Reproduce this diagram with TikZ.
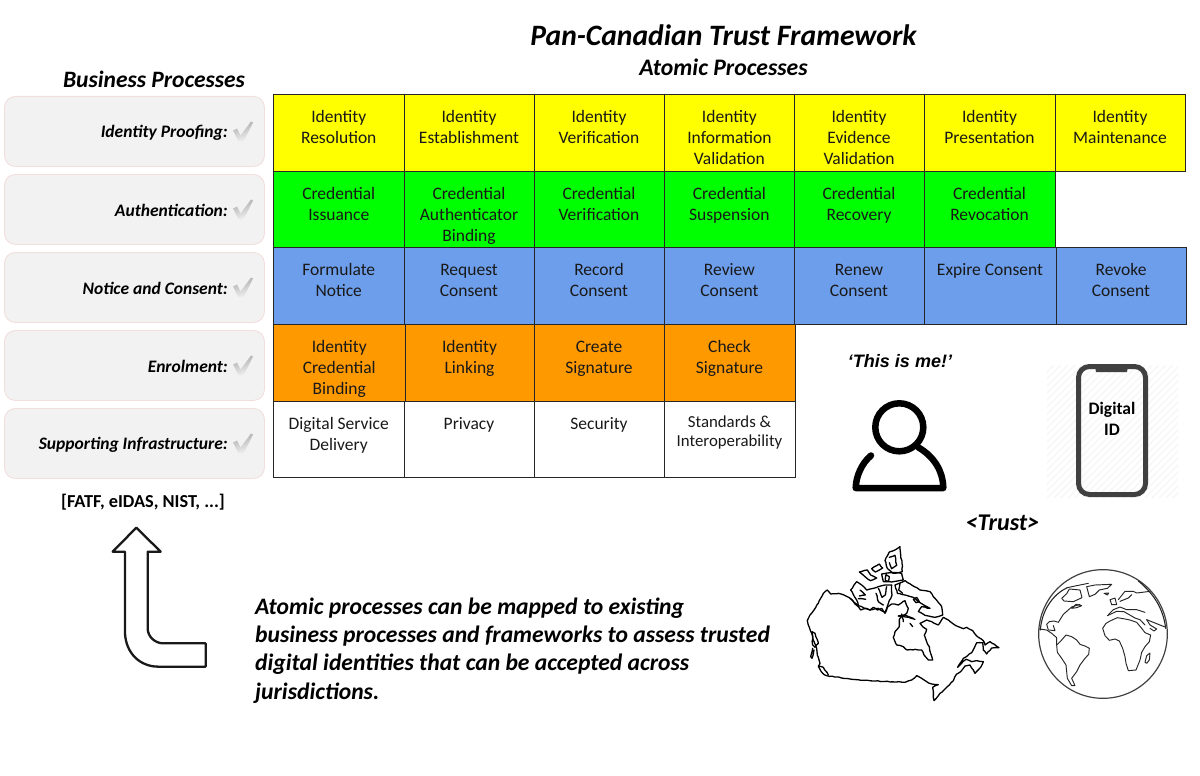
\documentclass[tikz,border=0pt]{standalone}
\usepackage{fontspec}
\usetikzlibrary{decorations.pathmorphing}
\setmainfont{Carlito}
\newfontfamily\arialf{Liberation Sans}
\definecolor{cyel}{HTML}{FFFF00}
\definecolor{cgrn}{HTML}{00FF00}
\definecolor{cblu}{HTML}{6D9EEB}
\definecolor{corg}{HTML}{FF9900}
\definecolor{cbord}{HTML}{262626}
\definecolor{bpfill}{HTML}{F2F2F2}
\definecolor{bpedge}{HTML}{F3DEDE}
\definecolor{phonec}{HTML}{404040}
\definecolor{hatchc}{HTML}{F7F7F7}
\pgfmathsetseed{7}
\tikzset{
  cellbox/.style={draw=cbord,line width=0.9pt,anchor=north west,inner sep=0pt,outer sep=0pt,text=black!90},
  bpbox/.style={draw=bpedge,fill=bpfill,line width=0.9pt,rounded corners=11pt,anchor=north west,minimum width=260pt,minimum height=70pt,inner sep=0pt},
  bplabel/.style={anchor=east,inner sep=0pt,font=\fontsize{17.5}{21}\selectfont\bfseries\itshape},
  heading/.style={inner sep=0pt,font=\bfseries\itshape,align=center},
  mapline/.style={line width=1.3pt,line join=round,line cap=round,black,decorate,decoration={random steps,segment length=3pt,amplitude=0.4pt}},
  globeline/.style={line width=0.95pt,line join=round,line cap=round,black!85},
  chk/.pic={\shade[top color=black!32,bottom color=black!5,shading angle=15]
     (-10,-1) -- (-6,-3) -- (-2.5,4) -- (8,-10) -- (10,-9) -- (1,9) -- (-2,10) -- (-5,9) -- cycle;}
}
\newcommand{\pcell}[7]{%
  \node[cellbox,fill=#6] (#1) at (#2,#3) {\parbox[c][#5pt][t]{#4pt}{\vspace*{13.4pt}\centering\fontsize{17.5}{21}\selectfont\strut #7\par}};}
\begin{document}
\begin{tikzpicture}[x=1pt,y=-1pt]
\useasboundingbox (0,0) rectangle (1200,776);
% headings
\node[heading,font=\fontsize{29.6}{34}\selectfont\bfseries\itshape] (title) at (723.5,35) {Pan-Canadian Trust Framework};
\node[heading,font=\fontsize{23.7}{27}\selectfont\bfseries\itshape] (atomic) at (723.5,67) {Atomic Processes};
\node[heading,font=\fontsize{23.5}{27}\selectfont\bfseries\itshape] (bizp) at (154,79) {Business Processes};
% business process boxes
\foreach \nm/\yy/\tx in {a/96/Identity Proofing:,b/174/Authentication:,c/252/Notice and Consent:,d/330/Enrolment:,e/408/Supporting Infrastructure:}{
  \node[bpbox] (bp\nm) at (4,\yy) {};
  \node[bplabel] (lb\nm) at (228,\yy+36.5) {\tx};
  \pic at (243,\yy+35.5) {chk};
}
\node[inner sep=0pt,font=\fontsize{18.3}{22}\selectfont\bfseries] (refs) at (143,502) {[FATF, eIDAS, NIST, ...]};
% row 1
\pcell{r1a}{273.5}{94}{130.5}{77}{cyel}{Identity\\Resolution}
\pcell{r1b}{404}{94}{130}{77}{cyel}{Identity\\Establishment}
\pcell{r1c}{534}{94}{130}{77}{cyel}{Identity\\Verification}
\pcell{r1d}{664}{94}{130.8}{77}{cyel}{Identity\\Information\\Validation}
\pcell{r1e}{794}{94}{130}{77}{cyel}{Identity\\Evidence\\Validation}
\pcell{r1f}{924}{94}{131}{77}{cyel}{Identity\\Presentation}
\pcell{r1g}{1055}{94}{130}{77}{cyel}{Identity\\Maintenance}
% row 2
\pcell{r2a}{273.5}{171}{130.5}{76}{cgrn}{Credential\\Issuance}
\pcell{r2b}{404}{171}{130}{76}{cgrn}{Credential\\Authenticator\\Binding}
\pcell{r2c}{534}{171}{130}{76}{cgrn}{Credential\\Verification}
\pcell{r2d}{664}{171}{130.8}{76}{cgrn}{Credential\\Suspension}
\pcell{r2e}{794}{171}{130}{76}{cgrn}{Credential\\Recovery}
\pcell{r2f}{924}{171}{131}{76}{cgrn}{Credential\\Revocation}
% row 3
\pcell{r3a}{273.5}{247}{130.5}{77}{cblu}{Formulate\\Notice}
\pcell{r3b}{404}{247}{130}{77}{cblu}{Request\\Consent}
\pcell{r3c}{534}{247}{130}{77}{cblu}{Record\\Consent}
\pcell{r3d}{664}{247}{130.8}{77}{cblu}{Review\\Consent}
\pcell{r3e}{794}{247}{130}{77}{cblu}{Renew\\Consent}
\pcell{r3f}{924}{247}{132}{77}{cblu}{Expire Consent}
\pcell{r3g}{1056}{247}{130}{77}{cblu}{Revoke\\Consent}
% row 4
\pcell{r4a}{273.5}{324}{131.5}{77}{corg}{Identity\\Credential\\Binding}
\pcell{r4b}{405}{324}{129}{77}{corg}{Identity\\Linking}
\pcell{r4c}{534}{324}{130}{77}{corg}{Create\\Signature}
\pcell{r4d}{664}{324}{131}{77}{corg}{Check\\Signature}
% row 5
\pcell{r5a}{273.5}{401}{130.5}{76}{white}{Digital Service\\Delivery}
\pcell{r5b}{404}{401}{130}{76}{white}{Privacy}
\pcell{r5c}{534}{401}{130}{76}{white}{Security}
\node[cellbox,fill=white] (r5d) at (664,401) {\parbox[c][76pt][t]{131pt}{\vspace*{13.5pt}\centering\fontsize{16.8}{19}\selectfont\strut Standards \&\\Interoperability\par}};
% this is me
\node[inner sep=0pt,font=\arialf\fontsize{18}{21}\selectfont\bfseries\itshape] (me) at (900,361) {‘This is me!’};
\coordinate (headc) at (899.3,427.3);
\draw[line width=6.5pt] (headc) circle[radius=24];
\draw[line width=6.5pt,line cap=round,line join=round]
  (871,455.5) .. controls (862,463) and (856,476) .. (855.7,488) -- (943.3,488)
  .. controls (943,470) and (933,456) .. (918.5,447.5);
% phone
\begin{scope}
\clip (1047,365) rectangle (1178,498);
\foreach \k in {0,7,...,280}{\draw[hatchc,line width=1.6pt] (1047+\k-133,498) -- (1047+\k,365);}
\end{scope}
\draw[phonec,line width=5pt,rounded corners=11pt] (1078.5,366.5) rectangle (1145.5,494.5);
\fill[phonec] (1095,366.5) -- (1128,366.5) -- (1127,372) -- (1096,372) -- cycle;
\node[inner sep=0pt,align=center,font=\fontsize{17.5}{21}\selectfont\bfseries] (did) at (1112,418.5) {Digital\\ID};
% trust
\node[inner sep=0pt,font=\fontsize{24}{28}\selectfont\bfseries\itshape] (trust) at (1002.5,523) {<Trust>};
% arrow
\begin{scope}[shift={(90,510)},xscale=1/3,yscale=1/3]
\draw[line width=2.3pt,line join=round,black!90] (139,53) -- (68,125) -- (105,125) -- (105,370)
  .. controls (108,430) and (150,470) .. (205,470) -- (347,470) -- (347,400) -- (220,400)
  .. controls (195,400) and (173,380) .. (173,355) -- (173,125) -- (212,125) -- cycle;
\end{scope}
% paragraph
\node[anchor=north west,inner sep=0pt,align=left,font=\fontsize{23.6}{28.3}\selectfont\bfseries\itshape] (para) at (255,597.5)
 {Atomic processes can be mapped to existing\\business processes and frameworks to assess trusted\\digital identities that can be accepted across\\jurisdictions.};
% Canada mainland
\begin{scope}[shift={(790,530)},xscale=1/3,yscale=1/3]
\draw[mapline] (52,272) -- (60,255) -- (72,240) -- (85,220) -- (92,205) -- (100,190) -- (112,180) -- (122,192) -- (145,190) -- (162,195) -- (183,207) -- (195,222) -- (205,230) -- (212,240) -- (228,235) -- (240,240) -- (250,232) -- (262,240) -- (275,235) -- (285,250) -- (292,232) -- (305,222) -- (325,225) -- (345,212) -- (355,235) -- (350,250) -- (335,258) -- (328,268) -- (328,290) -- (315,305) -- (310,322) -- (320,345) -- (340,350) -- (352,360) -- (375,358) -- (395,360) -- (402,375) -- (415,390) -- (428,390) -- (422,370) -- (418,350) -- (410,335) -- (403,315) -- (410,298) -- (398,290) -- (390,280) -- (410,270) -- (425,275) -- (445,285) -- (460,262) -- (475,270) -- (490,282) -- (505,290) -- (520,296) -- (530,292) -- (548,302) -- (565,322) -- (580,332) -- (585,345) -- (600,335) -- (612,342) -- (627,353) -- (605,354) -- (590,372) -- (580,360) -- (578,338) -- (560,338) -- (552,355) -- (545,368) -- (520,385) -- (510,400) -- (503,412) -- (528,388) -- (545,395) -- (560,392) -- (580,395) -- (572,412) -- (555,430) -- (550,420) -- (540,405) -- (525,408) -- (512,425) -- (500,432) -- (490,452) -- (478,465) -- (462,480) -- (450,490) -- (432,512) -- (428,472) -- (445,464) -- (425,462) -- (410,455) -- (395,445) -- (380,437) -- (365,450) -- (345,457) -- (250,453) -- (180,447) -- (110,437) -- (98,430) -- (85,410) -- (90,400) -- (82,375) -- (80,355) -- (72,335) -- (65,310) -- (58,292) -- (52,272);
\draw[mapline] (85,408) -- (100,412) -- (115,435);
\draw[mapline] (66,305) -- (75,310) -- (85,340) -- (75,352) -- (68,345) -- (66,305);
\draw[mapline] (68,355) -- (62,380) -- (66,385) -- (72,360);
\draw[mapline] (325,258) -- (355,262) -- (375,268);
\draw[mapline] (360,280) -- (368,290);
\end{scope}
% Arctic archipelago
\begin{scope}[shift={(850,540)},xscale=1/3,yscale=1/3]
\draw[mapline] (150,20) -- (152,45) -- (156,70) -- (157,95) -- (130,100) -- (112,85) -- (105,62) -- (118,36) -- (135,30) -- cycle;
\draw[mapline] (118,52) -- (135,46) -- (140,76) -- (125,86) -- (118,68);
\draw[mapline] (95,102) -- (125,98) -- (155,100) -- (160,120) -- (125,126) -- (100,125) -- cycle;
\draw[mapline] (108,104) -- (118,110) -- (116,124) -- (106,122) -- cycle;
\draw[mapline] (28,96) -- (52,90) -- (62,105) -- (80,114) -- (62,122) -- (45,110) -- cycle;
\draw[mapline] (65,86) -- (88,72) -- (98,84) -- (76,96) -- cycle;
\draw[mapline] (2,150) -- (20,125) -- (35,135) -- (50,150) -- (70,145) -- (85,140) -- (105,135) -- (125,135) -- (126,165) -- (115,190) -- (105,217) -- (85,205) -- (60,210) -- (25,197) -- (20,180) -- cycle;
\draw[mapline] (30,150) -- (46,165) -- (28,168);
\draw[mapline] (25,176) -- (47,178);
\draw[mapline] (85,145) -- (96,172) -- (106,165) -- (110,140);
\draw[mapline] (78,160) -- (85,185) -- (100,195);
\draw[mapline] (0,175) -- (25,197);
\draw[mapline] (135,135) -- (165,122) -- (185,135) -- (210,150) -- (240,155) -- (255,175) -- (275,200) -- (278,225) -- (255,232) -- (225,226) -- (205,215) -- (215,200) -- (240,205) -- (205,185) -- (190,172) -- (165,165) -- (142,160) -- cycle;
\draw[mapline] (150,130) -- (146,150) -- (158,160);
\draw[mapline] (190,178) -- (200,172) -- (208,185) -- (198,188) -- cycle;
\draw[mapline] (145,228) -- (165,225) -- (190,235);
\draw[mapline] (155,222) -- (160,245);
\end{scope}
% Globe
\begin{scope}[shift={(1030,565)},xscale=1/3,yscale=1/3]
\draw[line width=1.2pt,black!75] (219,207) circle[radius=193];
\draw[globeline,line width=1.1pt] (31,195) .. controls (35,140) and (65,90) .. (112,68);
\draw[globeline,line width=1.1pt] (325,48) .. controls (370,85) and (400,130) .. (407,190);
% South America
\draw[globeline] (80,240) -- (95,225) -- (108,210) -- (125,215) -- (140,225) -- (150,238) -- (165,243) -- (178,250) -- (176,268) -- (165,280) -- (150,300) -- (140,320) -- (125,340) -- (135,362) -- (125,362) -- (112,340) -- (110,320) -- (108,300) -- (95,280) -- (82,262) -- cycle;
% Africa
\draw[globeline] (218,190) -- (228,175) -- (240,168) -- (262,158) -- (285,162) -- (300,165) -- (320,172) -- (335,190) -- (345,203) -- (362,210) -- (358,230) -- (345,245) -- (335,262) -- (330,285) -- (318,315) -- (295,317) -- (288,295) -- (285,275) -- (278,250) -- (268,228) -- (255,222) -- (238,226) -- (225,212) -- cycle;
% N America
\draw[globeline] (28,192) -- (50,195) -- (65,205) -- (80,218) -- (80,240);
\draw[globeline] (55,195) -- (50,178) -- (58,170) -- (72,168) -- (85,172) -- (100,148) -- (125,126) -- (150,118);
\draw[globeline] (58,195) -- (75,197) -- (70,182);
\draw[globeline] (112,68) -- (140,62) -- (175,55);
\draw[globeline] (95,100) -- (110,86) -- (118,72) -- (150,75) -- (156,98) -- (130,110) -- (102,108) -- cycle;
\draw[globeline] (125,130) -- (138,118) -- (155,122) -- (140,128) -- cycle;
\draw[globeline] (170,65) -- (195,60) -- (245,58) -- (232,70) -- (208,75) -- (195,88) -- (178,95) -- cycle;
\draw[globeline] (222,85) -- (236,84) -- (232,90) -- cycle;
% Europe and Asia
\draw[globeline] (265,104) -- (285,79) -- (310,79) -- (320,84) -- (360,79);
\draw[globeline] (270,109) -- (295,99) -- (305,89);
\draw[globeline] (240,104) -- (255,99) -- (260,119) -- (245,119) -- cycle;
\draw[globeline] (235,149) -- (250,134) -- (270,126) -- (290,134) -- (320,134) -- (345,142);
\draw[globeline] (232,152) -- (260,139) -- (282,140) -- (315,159) -- (330,164) -- (345,180);
\draw[globeline] (350,164) -- (375,174) -- (405,186);
\draw[globeline] (350,164) -- (360,180) -- (380,192) -- (372,198) -- (360,190);
\draw[globeline] (345,292) -- (350,272) -- (360,264) -- (358,285) -- (350,295) -- cycle;
\end{scope}
\end{tikzpicture}
\end{document}
